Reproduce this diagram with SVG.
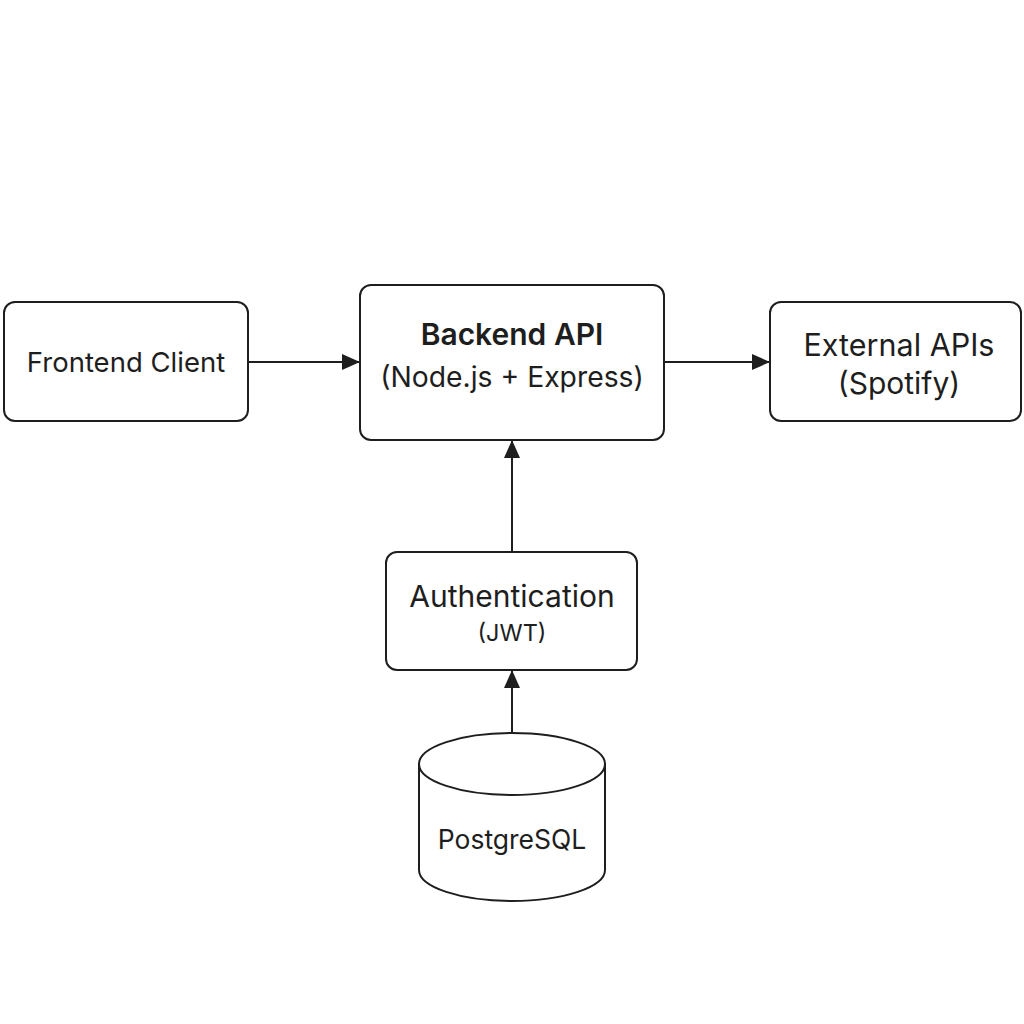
<svg xmlns="http://www.w3.org/2000/svg" width="1024" height="1024" viewBox="0 0 1024 1024">
<defs>
<style>
.box{fill:#fff;stroke:#1e1e1e;stroke-width:2}
.t{font-family:Inter,"Liberation Sans",sans-serif;fill:#1e1e1e;text-anchor:middle}
.c{stroke:#1e1e1e;stroke-width:2;fill:none}
</style>
<marker id="ah" markerWidth="18" markerHeight="16" refX="17" refY="8" orient="auto" markerUnits="userSpaceOnUse" viewBox="0 0 18 16">
<path d="M0,0 L18,8 L0,16 Z" fill="#1e1e1e"/>
</marker>
</defs>
<rect width="1024" height="1024" fill="#fff"/>
<g id="connectors">
<line class="c" x1="249" y1="362" x2="359" y2="362" marker-end="url(#ah)"/>
<line class="c" x1="665" y1="362" x2="769" y2="362" marker-end="url(#ah)"/>
<line class="c" x1="512" y1="552" x2="512" y2="441" marker-end="url(#ah)"/>
<line class="c" x1="512" y1="733" x2="512" y2="671" marker-end="url(#ah)"/>
</g>
<g id="frontend">
<rect class="box" x="4" y="302" width="244" height="119" rx="11"/>
<text class="t" x="126" y="372" font-size="27.5">Frontend Client</text>
</g>
<g id="backend">
<rect class="box" x="360" y="285" width="304" height="155" rx="11"/>
<text class="t" x="512" y="345" font-size="30" font-weight="600">Backend API</text>
<text class="t" x="512" y="387" font-size="28.3">(Node.js + Express)</text>
</g>
<g id="external">
<rect class="box" x="770" y="302" width="251" height="119" rx="11"/>
<text class="t" x="899" y="356" font-size="30.5">External APIs</text>
<text class="t" x="899" y="394" font-size="30">(Spotify)</text>
</g>
<g id="auth">
<rect class="box" x="386" y="552" width="251" height="118" rx="11"/>
<text class="t" x="512" y="607" font-size="30">Authentication</text>
<text class="t" x="512" y="641" font-size="23.5">(JWT)</text>
</g>
<g id="postgres">
<path class="box" d="M419,764 L419,870 A93,31 0 0 0 605,870 L605,764"/>
<ellipse class="box" cx="512" cy="764" rx="93" ry="31"/>
<text class="t" x="512" y="849" font-size="26.5">PostgreSQL</text>
</g>
</svg>
